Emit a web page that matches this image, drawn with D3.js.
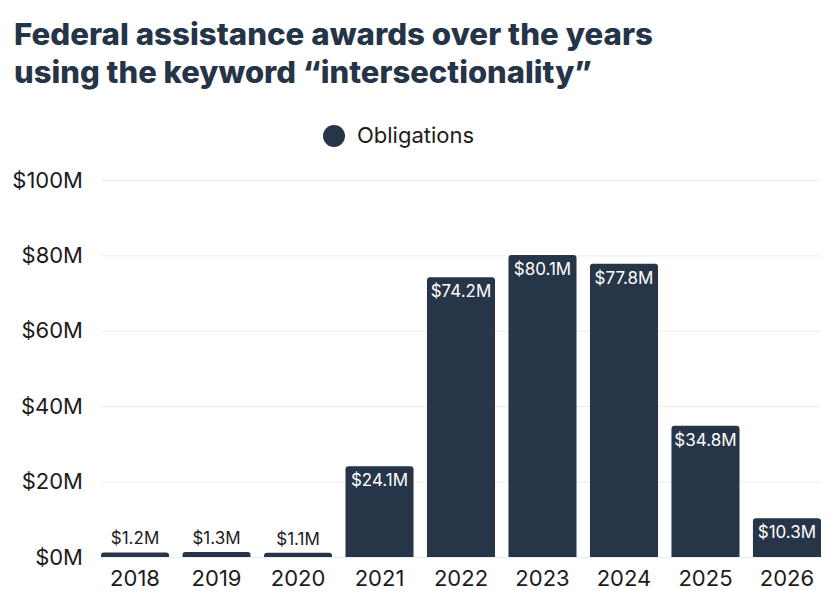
<!DOCTYPE html>
<html>
<head>
<meta charset="utf-8">
<script src="https://cdn.jsdelivr.net/npm/d3@7"></script>
<style>
  html, body { margin: 0; padding: 0; background: #fff; }
  svg { display: block; font-family: "Inter", "Noto Sans", sans-serif; }
</style>
</head>
<body>
<svg id="chart" width="840" height="614"></svg>
<script>
const titleLines = ["Federal assistance awards over the years", "using the keyword \u201cintersectionality\u201d"];
const titleWidths = [639, 578];
const seriesName = "Obligations";
const years = ["2018", "2019", "2020", "2021", "2022", "2023", "2024", "2025", "2026"];
const obligations = [1.2, 1.3, 1.1, 24.1, 74.2, 80.1, 77.8, 34.8, 10.3];
const yTicks = [0, 20, 40, 60, 80, 100];

const color = "#263548";
const textColor = "#1c1c1c";
const svg = d3.select("#chart");

const margin = { left: 101, right: 19, top: 180, bottom: 57 };
const W = 840, H = 614;

const x = d3.scaleBand().domain(years).range([margin.left, W - margin.right]).paddingInner(0.165).paddingOuter(0);
const y = d3.scaleLinear().domain([0, 100]).range([H - margin.bottom, margin.top]);

// Title
titleLines.forEach((t, i) => {
  svg.append("text")
    .attr("x", 14).attr("y", 45 + i * 38)
    .attr("font-size", 30).attr("font-weight", 800)
    .attr("fill", "#253447")
    .attr("textLength", titleWidths[i])
    .attr("lengthAdjust", "spacingAndGlyphs")
    .text(t);
});

// Legend
svg.append("circle").attr("cx", 334).attr("cy", 136).attr("r", 11).attr("fill", color);
svg.append("text").attr("x", 357).attr("y", 143).attr("font-size", 22).attr("fill", textColor).text(seriesName);

// Gridlines + y axis
const yAxis = d3.axisLeft(y).tickValues(yTicks).tickFormat(d => "$" + d + "M").tickSize(-(W - margin.left - margin.right)).tickPadding(18);
const gy = svg.append("g").attr("transform", `translate(${margin.left},0)`).call(yAxis);
gy.select(".domain").remove();
gy.selectAll(".tick line").attr("stroke", "#ececec").attr("stroke-width", 1);
gy.selectAll(".tick text").attr("font-size", 22).attr("fill", textColor).attr("font-family", "Inter, sans-serif");

// Bars with rounded top corners
function barPath(x0, y0, w, h, r) {
  r = Math.min(r, h, w / 2);
  return `M${x0},${y0 + h} L${x0},${y0 + r} Q${x0},${y0} ${x0 + r},${y0} L${x0 + w - r},${y0} Q${x0 + w},${y0} ${x0 + w},${y0 + r} L${x0 + w},${y0 + h} Z`;
}
const data = years.map((yr, i) => ({ yr, v: obligations[i] }));
svg.append("g").selectAll("path").data(data).join("path")
  .attr("d", d => barPath(x(d.yr), y(d.v), x.bandwidth(), y(0) - y(d.v), 3))
  .attr("fill", color);

// Bar labels
svg.append("g").selectAll("text").data(data).join("text")
  .attr("x", d => x(d.yr) + x.bandwidth() / 2)
  .attr("y", d => (y(0) - y(d.v) > 30) ? y(d.v) + 20 : y(d.v) - 8)
  .attr("text-anchor", "middle")
  .attr("font-size", 17)
  .attr("fill", d => (y(0) - y(d.v) > 30) ? "#ffffff" : textColor)
  .text(d => "$" + d.v.toFixed(1) + "M");

// X axis labels
const xAxis = d3.axisBottom(x).tickSize(0).tickPadding(13);
const gx = svg.append("g").attr("transform", `translate(0,${y(0)})`).call(xAxis);
gx.select(".domain").attr("stroke", "#ececec");
gx.selectAll(".tick text").attr("font-size", 22).attr("fill", textColor).attr("font-family", "Inter, sans-serif").attr("dy", "0.71em");
</script>
</body>
</html>
